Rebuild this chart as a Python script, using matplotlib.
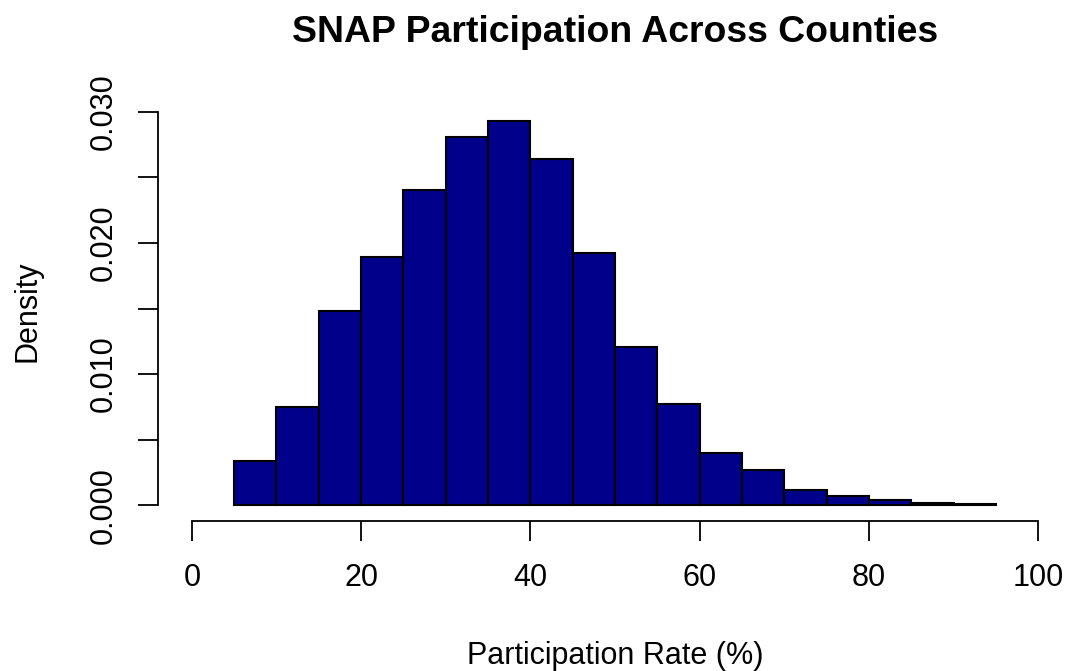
import matplotlib.pyplot as plt

# histogram of county SNAP participation, densities per 5-point bin
bin_edges = [5, 10, 15, 20, 25, 30, 35, 40, 45, 50, 55, 60, 65, 70, 75, 80, 85, 90, 95]
density = [0.0034, 0.0075, 0.0148, 0.0189, 0.0240, 0.0281, 0.0293, 0.0264, 0.0192,
           0.0121, 0.0077, 0.0040, 0.0027, 0.0012, 0.0007, 0.0004, 0.0002, 0.0001]
x_ticks = [0, 20, 40, 60, 80, 100]
y_ticks = [0.000, 0.005, 0.010, 0.015, 0.020, 0.025, 0.030]
y_tick_labels = ["0.000", "", "0.010", "", "0.020", "", "0.030"]

plt.rcParams['font.family'] = ['Liberation Sans', 'DejaVu Sans']

W, H = 1066, 671
fig = plt.figure(figsize=(W / 100, H / 100), dpi=100)
fig.patch.set_facecolor('white')

# plot region in pixels (R style, 4% padding around xlim/ylim)
left, right, top, bottom = 158, 1072, 96, 521
ax = fig.add_axes([left / W, 1 - bottom / H, (right - left) / W, (bottom - top) / H])

widths = [bin_edges[i + 1] - bin_edges[i] for i in range(len(density))]
ax.bar(bin_edges[:-1], density, width=widths, align='edge',
       color='darkblue', edgecolor='black', linewidth=1.5)

ax.set_xlim(-4, 104)
ax.set_ylim(-0.0012, 0.0312)

for s in ['top', 'right']:
    ax.spines[s].set_visible(False)
ax.spines['left'].set_bounds(0, 0.03)
ax.spines['bottom'].set_bounds(0, 100)
for s in ['left', 'bottom']:
    ax.spines[s].set_linewidth(1.3)

ax.set_xticks(x_ticks)
ax.set_yticks(y_ticks)
ax.set_yticklabels(y_tick_labels)
ax.tick_params(length=14.5, width=1.3, labelsize=22)
ax.tick_params(axis='x', pad=16)
ax.tick_params(axis='y', pad=13.5)
for lab in ax.get_yticklabels():
    lab.set_rotation(90)
    lab.set_va('center')

# titles placed in pixel coordinates
fig.text(615 / W, 1 - 42 / H, "SNAP Participation Across Counties", fontsize=26.9,
         fontweight='bold', ha='center', va='baseline')
fig.text(615 / W, 1 - 664 / H, "Participation Rate (%)", fontsize=22,
         ha='center', va='baseline')
fig.text(27.5 / W, 1 - 311 / H, "Density", fontsize=22, rotation=90,
         ha='center', va='center')

fig.savefig("out.png", dpi=100)
